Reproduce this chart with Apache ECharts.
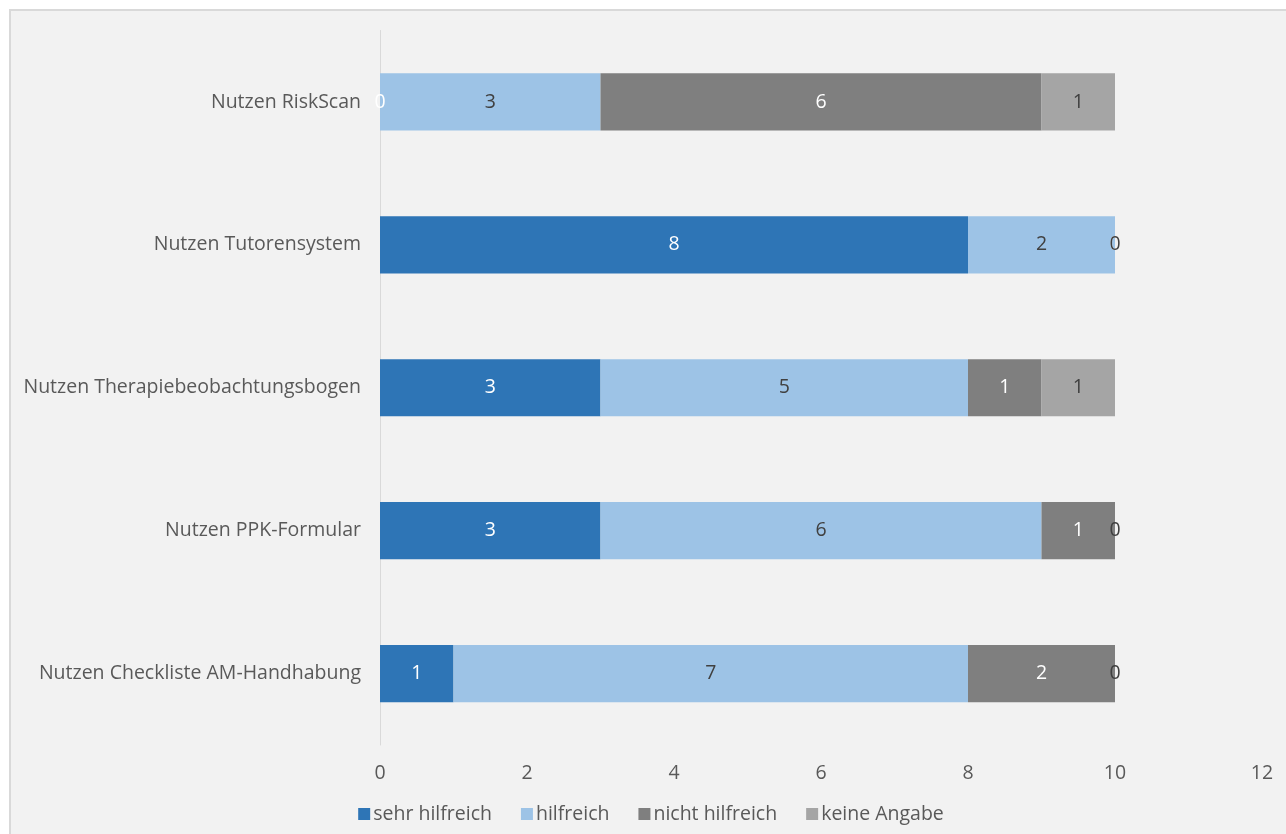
<!DOCTYPE html>
<html>
<head>
<meta charset="utf-8">
<script src="https://cdn.jsdelivr.net/npm/echarts@6/dist/echarts.min.js"></script>
<style>
  html, body { margin: 0; padding: 0; background: #ffffff; overflow: hidden; }
  #c {
    position: absolute; left: 9px; top: 9px;
    width: 1280px; height: 830px;
    background: #f2f2f2; border: 2px solid #d9d9d9;
  }
</style>
</head>
<body>
<div id="c"></div>
<script>
// Bottom-to-top order on the category axis
const categories = [
  'Nutzen Checkliste AM-Handhabung',
  'Nutzen PPK-Formular',
  'Nutzen Therapiebeobachtungsbogen',
  'Nutzen Tutorensystem',
  'Nutzen RiskScan'
];
const sehrHilfreich  = [1, 3, 3, 8, 0];
const hilfreich      = [7, 6, 5, 2, 3];
const nichtHilfreich = [2, 1, 1, 0, 6];
const keineAngabe    = [0, 0, 1, 0, 1];
const xTicks = [0, 2, 4, 6, 8, 10, 12];

const FONT = 'Open Sans';
const FS = 19.5;
const TXT = '#595959';

function stackSeries(name, data, color, labelColor) {
  return {
    name, type: 'bar', stack: 'total', data,
    barCategoryGap: '60%',
    itemStyle: { color },
    label: {
      show: true, position: 'inside',
      color: labelColor, fontFamily: FONT, fontSize: FS
    }
  };
}

const chart = echarts.init(document.getElementById('c'));
chart.setOption({
  animation: false,
  backgroundColor: 'transparent',
  textStyle: { fontFamily: FONT },
  grid: { left: 369, right: 29, top: 19.5, bottom: 96, containLabel: false },
  xAxis: {
    type: 'value', min: xTicks[0], max: xTicks[xTicks.length - 1], interval: 2,
    axisLine: { show: false }, axisTick: { show: false },
    splitLine: { show: false },
    axisLabel: { color: TXT, fontSize: FS, fontFamily: FONT, margin: 18 }
  },
  yAxis: {
    type: 'category', data: categories,
    axisLine: { show: true, lineStyle: { color: '#d9d9d9', width: 1 } },
    axisTick: { show: false },
    axisLabel: { color: TXT, fontSize: FS, fontFamily: FONT, margin: 19 }
  },
  legend: {
    bottom: 12, left: 'center',
    itemWidth: 12, itemHeight: 12, itemGap: 29,
    icon: 'rect',
    textStyle: { color: TXT, fontSize: FS, fontFamily: FONT, padding: [0, 0, 0, -2] },
    data: ['sehr hilfreich', 'hilfreich', 'nicht hilfreich', 'keine Angabe']
  },
  series: [
    stackSeries('sehr hilfreich', sehrHilfreich, '#2e75b6', '#ffffff'),
    stackSeries('hilfreich', hilfreich, '#9dc3e6', '#404040'),
    stackSeries('nicht hilfreich', nichtHilfreich, '#7f7f7f', '#ffffff'),
    stackSeries('keine Angabe', keineAngabe, '#a5a5a5', '#404040')
  ]
});
</script>
</body>
</html>
